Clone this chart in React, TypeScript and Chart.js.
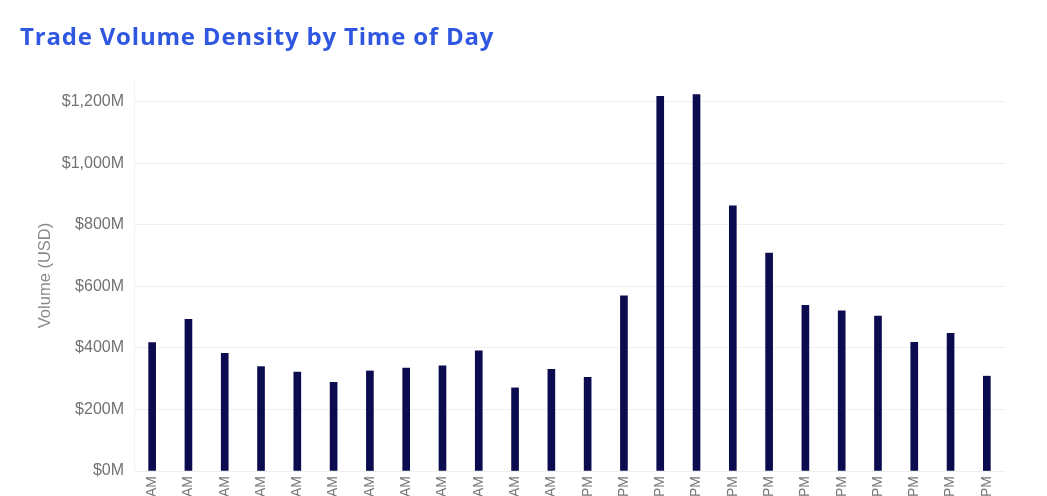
import React, { useEffect, useRef } from "react";
import { Chart, registerables } from "chart.js";

Chart.register(...registerables);

const chartTitle = "Trade Volume Density by Time of Day";

const hourLabels: string[] = [
  "12 AM", "1 AM", "2 AM", "3 AM", "4 AM", "5 AM", "6 AM", "7 AM", "8 AM", "9 AM", "10 AM", "11 AM",
  "12 PM", "1 PM", "2 PM", "3 PM", "4 PM", "5 PM", "6 PM", "7 PM", "8 PM", "9 PM", "10 PM", "11 PM",
];

const volumeMillions: number[] = [
  417, 493, 382, 339, 321, 288, 325, 334, 342, 390, 270, 330,
  304, 569, 1217, 1223, 861, 708, 538, 520, 503, 418, 447, 308,
];

const yTickStep = 200;
const yMax = 1270;

export default function App() {
  const canvasRef = useRef<HTMLCanvasElement | null>(null);

  useEffect(() => {
    if (!canvasRef.current) return;
    const chart = new Chart(canvasRef.current, {
      type: "bar",
      data: {
        labels: hourLabels,
        datasets: [
          {
            label: "Volume",
            data: volumeMillions,
            backgroundColor: "#0b0b4f",
            borderWidth: 0,
            barThickness: 7,
          },
        ],
      },
      options: {
        animation: false,
        responsive: true,
        maintainAspectRatio: false,
        layout: { padding: { left: 12, right: 34, top: 72, bottom: 0 } },
        plugins: {
          legend: { display: false },
          tooltip: { enabled: false },
          title: { display: false },
        },
        scales: {
          x: {
            grid: { display: false, drawTicks: false },
            border: { display: false },
            ticks: {
              autoSkip: false,
              maxRotation: 90,
              minRotation: 90,
              padding: 5,
              color: "#777777",
              font: { family: "'Liberation Sans', Arial, sans-serif", size: 14 },
            },
            afterFit: (s: any) => {
              s.height = 97;
            },
          },
          y: {
            min: 0,
            max: yMax,
            grid: { color: "#efefef", drawTicks: false },
            border: { color: "#f2f2f2" },
            ticks: {
              stepSize: yTickStep,
              includeBounds: false,
              padding: 10,
              color: "#727272",
              font: { family: "'Liberation Sans', Arial, sans-serif", size: 16 },
              callback: (v: any) => "$" + Number(v).toLocaleString("en-US") + "M",
            },
            title: {
              display: true,
              text: "Volume (USD)",
              color: "#8a8a8a",
              font: { family: "'Liberation Sans', Arial, sans-serif", size: 16.5 },
              padding: { top: 16, bottom: 0 },
            },
            afterFit: (s: any) => {
              s.width = 114;
            },
          },
        },
      },
    });
    return () => chart.destroy();
  }, []);

  return (
    <div style={{ position: "relative", width: 1031, height: 488, overflow: "hidden" }}>
      <div
        style={{
          position: "absolute",
          left: 12,
          top: 16,
          margin: 0,
          fontFamily: "'Open Sans', sans-serif",
          fontWeight: 700,
          fontSize: 24,
          lineHeight: "24px",
          letterSpacing: "0.8px",
          color: "#3057e1",
          whiteSpace: "nowrap",
          zIndex: 1,
        }}
      >
        {chartTitle}
      </div>
      <div style={{ position: "relative", width: 1031, height: 560 }}>
        <canvas ref={canvasRef} />
      </div>
    </div>
  );
}
